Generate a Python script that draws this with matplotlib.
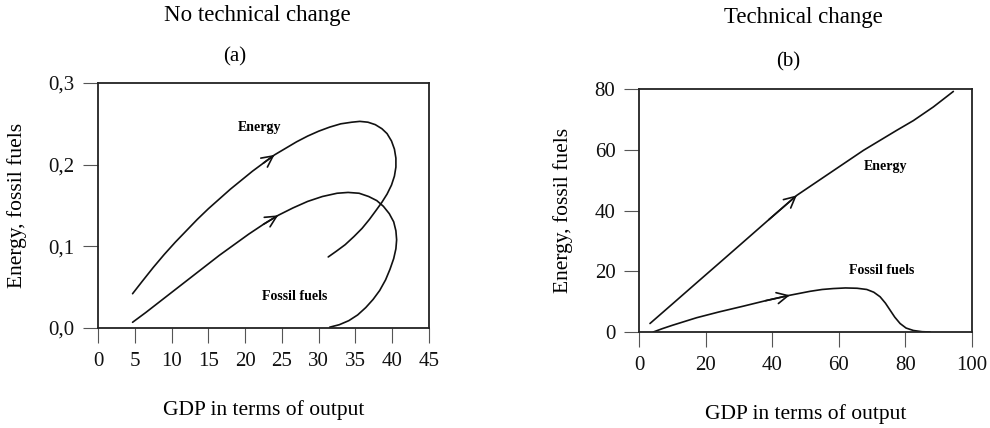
import matplotlib
matplotlib.use("Agg")
import matplotlib.pyplot as plt

plt.rcParams['font.family'] = ['Liberation Serif', 'DejaVu Serif']

# ---- Panel (a): No technical change ----
a_energy_x = [4.7, 6.0, 7.5, 9.0, 10.5, 12.0, 13.5, 15.0, 16.5, 18.0, 19.5, 21.0, 22.5, 24.0,
              25.5, 27.0, 28.5, 30.0, 31.5, 33.0, 34.5, 35.6, 36.7, 37.7, 38.6, 39.3, 39.9,
              40.3, 40.5, 40.5, 40.3, 39.9, 39.3, 38.6, 37.8, 36.9, 35.9, 34.8, 33.6, 32.4, 31.3]
a_energy_y = [0.042, 0.057, 0.074, 0.090, 0.105, 0.119, 0.133, 0.146, 0.158, 0.170, 0.181,
              0.192, 0.202, 0.212, 0.220, 0.228, 0.235, 0.241, 0.246, 0.250, 0.252, 0.253,
              0.252, 0.249, 0.244, 0.238, 0.229, 0.219, 0.208, 0.197, 0.186, 0.175, 0.164,
              0.154, 0.144, 0.133, 0.122, 0.112, 0.102, 0.094, 0.087]
a_fossil_x = [4.7, 6.5, 8.5, 10.5, 12.5, 14.5, 16.5, 18.5, 20.5, 22.5, 24.5, 26.5, 28.5, 30.5,
              32.5, 34.0, 35.5, 36.8, 37.9, 38.8, 39.6, 40.2, 40.5, 40.6, 40.5, 40.2, 39.7,
              39.1, 38.3, 37.4, 36.4, 35.3, 34.1, 32.8, 31.5]
a_fossil_y = [0.007, 0.019, 0.033, 0.047, 0.061, 0.075, 0.089, 0.102, 0.115, 0.127, 0.138,
              0.147, 0.155, 0.161, 0.165, 0.166, 0.165, 0.161, 0.156, 0.149, 0.140, 0.130,
              0.119, 0.108, 0.097, 0.085, 0.072, 0.059, 0.046, 0.035, 0.025, 0.016, 0.009,
              0.004, 0.001]
a_xticks = [0, 5, 10, 15, 20, 25, 30, 35, 40, 45]
a_yticks = [0.0, 0.1, 0.2, 0.3]
a_yticklabels = ["0,0", "0,1", "0,2", "0,3"]
a_arrow_idx = {"energy": 13, "fossil": 10}

# ---- Panel (b): Technical change ----
b_energy_x = [3.3, 10.0, 17.3, 24.0, 31.3, 39.0, 47.4, 57.4, 67.4, 77.4, 82.4, 88.4, 94.4]
b_energy_y = [2.8, 9.2, 16.2, 22.6, 29.6, 37.0, 45.0, 52.4, 59.8, 66.4, 69.6, 74.1, 79.2]
b_fossil_x = [4.3, 7.0, 10.0, 13.5, 17.3, 24.0, 31.3, 38.0, 45.3, 51.4, 55.0, 58.3, 62.0,
              65.5, 68.4, 70.5, 72.4, 74.0, 75.4, 76.8, 78.4, 80.2, 82.4, 85.0, 87.4]
b_fossil_y = [0.0, 1.1, 2.2, 3.4, 4.7, 6.6, 8.5, 10.3, 12.1, 13.4, 14.0, 14.3, 14.5,
              14.4, 14.0, 13.1, 11.6, 9.5, 7.2, 4.9, 2.8, 1.3, 0.5, 0.1, 0.0]
b_xticks = [0, 20, 40, 60, 80, 100]
b_yticks = [0, 20, 40, 60, 80]
b_arrow_idx = {"energy": 6, "fossil": 8}

W, H = 990, 428
fig = plt.figure(figsize=(W / 100, H / 100), dpi=100)

def px_axes(l, t, r, b):
    return fig.add_axes([l / W, 1 - b / H, (r - l) / W, (b - t) / H])

ax_a = px_axes(98, 83, 429, 328)
ax_b = px_axes(639, 89, 972, 332)

def style(ax):
    for s in ax.spines.values():
        s.set_linewidth(1.3)
        s.set_color('#222222')
    ax.tick_params(direction='out', length=11, width=0.8, color='#555555',
                   labelsize=15, pad=6, labelcolor='#111111')

def draw(ax, x, y, idx):
    ax.plot(x, y, color='#111111', lw=1.2, solid_capstyle='round', solid_joinstyle='round')
    ax.annotate('', xy=(x[idx], y[idx]), xytext=(x[idx - 1], y[idx - 1]),
                arrowprops=dict(arrowstyle='->', lw=1.2, color='#111111',
                                mutation_scale=20, shrinkA=0, shrinkB=0))

# Panel a
draw(ax_a, a_energy_x, a_energy_y, a_arrow_idx["energy"])
draw(ax_a, a_fossil_x, a_fossil_y, a_arrow_idx["fossil"])
ax_a.set_xlim(0, 45)
ax_a.set_ylim(0, 0.3)
ax_a.set_xticks(a_xticks)
ax_a.set_yticks(a_yticks)
ax_a.set_yticklabels(a_yticklabels)
style(ax_a)
ax_a.text(22.0, 0.245, "Energy", fontsize=10, fontweight='bold', ha='center', va='center')
ax_a.text(26.8, 0.038, "Fossil fuels", fontsize=10, fontweight='bold', ha='center', va='center')

# Panel b
draw(ax_b, b_energy_x, b_energy_y, b_arrow_idx["energy"])
draw(ax_b, b_fossil_x, b_fossil_y, b_arrow_idx["fossil"])
ax_b.set_xlim(0, 100)
ax_b.set_ylim(0, 80)
ax_b.set_xticks(b_xticks)
ax_b.set_yticks(b_yticks)
style(ax_b)
ax_b.text(73.9, 54.5, "Energy", fontsize=10, fontweight='bold', ha='center', va='center')
ax_b.text(72.9, 20.3, "Fossil fuels", fontsize=10, fontweight='bold', ha='center', va='center')

# Titles and axis labels (figure pixel positions)
def ftext(x, y, s, **kw):
    fig.text(x / W, 1 - y / H, s, ha='center', va='center', **kw)

ftext(257, 16, "No technical change", fontsize=16.5)
ftext(235, 57, "(a)", fontsize=15)
ftext(803, 17, "Technical change", fontsize=16.5)
ftext(788, 62, "(b)", fontsize=15)
ftext(264, 410, "GDP in terms of output", fontsize=15.5)
ftext(806, 414, "GDP in terms of output", fontsize=15.5)
ftext(17, 205, "Energy, fossil fuels", fontsize=15.5, rotation=90)
ftext(563, 210, "Energy, fossil fuels", fontsize=15.5, rotation=90)

fig.savefig("out.png", dpi=100)
